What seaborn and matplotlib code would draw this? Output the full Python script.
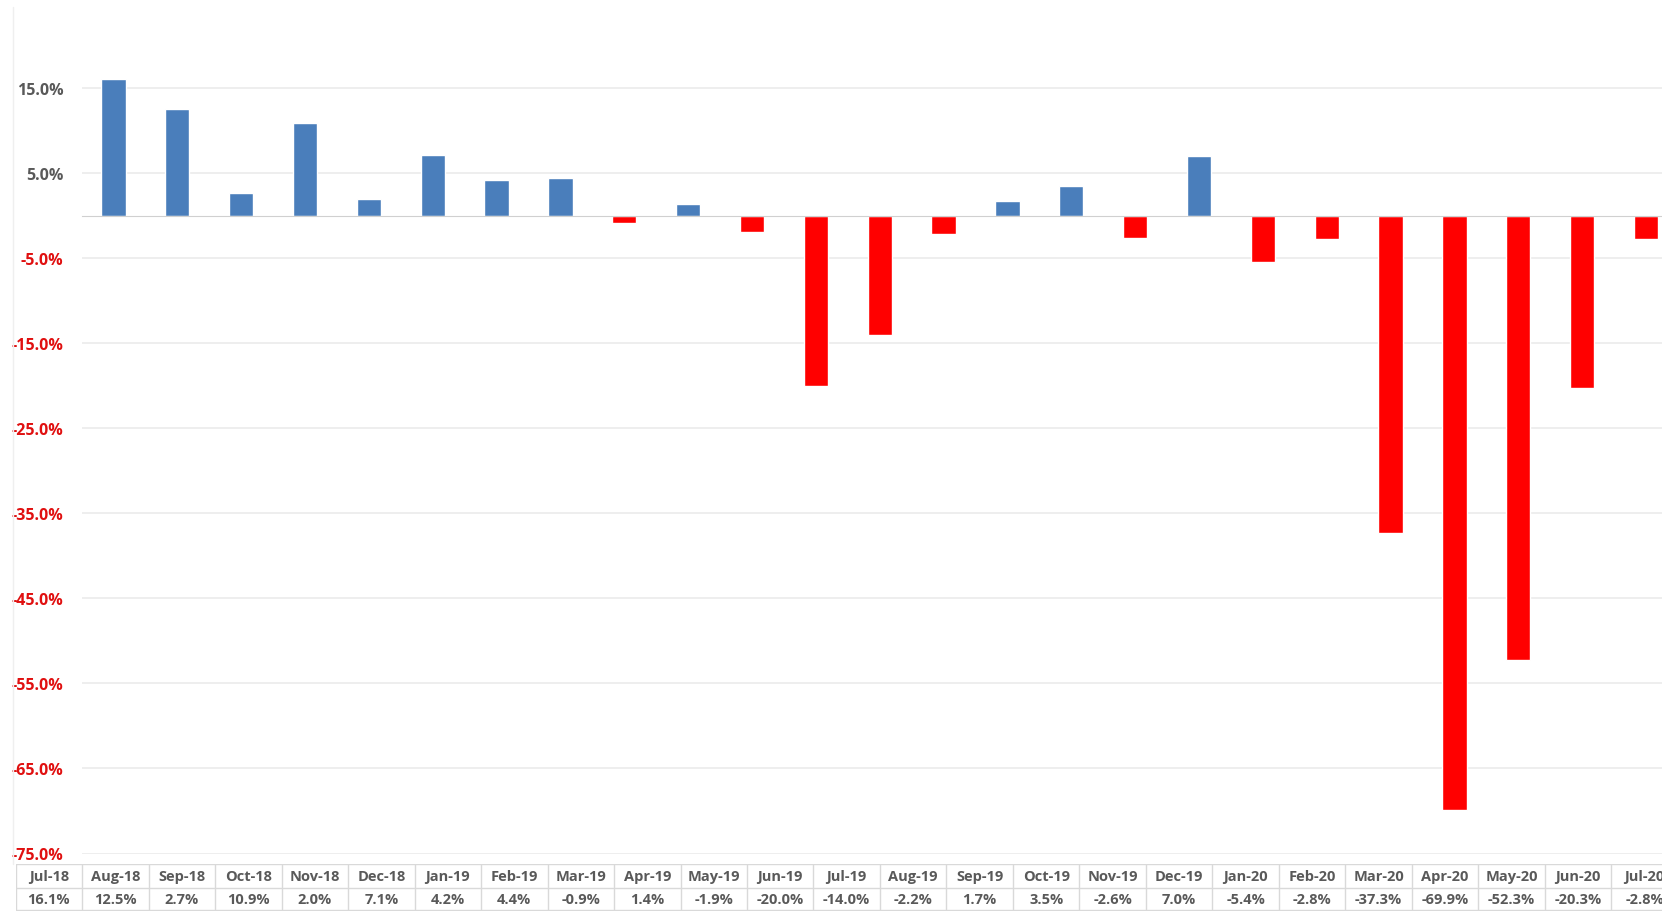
import matplotlib
matplotlib.use("Agg")
import matplotlib.pyplot as plt
import seaborn as sns
import pandas as pd
from matplotlib.lines import Line2D

# Datos: variación mensual
months = ["Jul-18", "Aug-18", "Sep-18", "Oct-18", "Nov-18", "Dec-18",
          "Jan-19", "Feb-19", "Mar-19", "Apr-19", "May-19", "Jun-19",
          "Jul-19", "Aug-19", "Sep-19", "Oct-19", "Nov-19", "Dec-19",
          "Jan-20", "Feb-20", "Mar-20", "Apr-20", "May-20", "Jun-20", "Jul-20"]
values = [16.1, 12.5, 2.7, 10.9, 2.0, 7.1,
          4.2, 4.4, -0.9, 1.4, -1.9, -20.0,
          -14.0, -2.2, 1.7, 3.5, -2.6, 7.0,
          -5.4, -2.8, -37.3, -69.9, -52.3, -20.3, -2.8]
y_ticks = [15, 5, -5, -15, -25, -35, -45, -55, -65, -75]

df = pd.DataFrame({"month": months, "value": values})
df["sign"] = ["pos" if v >= 0 else "neg" for v in values]

sns.set_style("white")
plt.rcParams["font.family"] = ["Open Sans", "DejaVu Sans"]

W, H = 1662, 912
fig = plt.figure(figsize=(W / 100, H / 100), dpi=100)

# Área del gráfico (se extiende un poco más allá del borde derecho)
ax = fig.add_axes([81.5 / W, 1 - 854.5 / H, 25 * 63.86 / W, (854.5 - 4) / H])
sns.barplot(data=df, x="month", y="value", hue="sign",
            palette={"pos": "#4A7EBB", "neg": "#FF0000"}, saturation=1,
            dodge=False, width=0.38, legend=False, ax=ax)
ax.set_xlim(-0.5, 24.5)
ax.set_ylim(-75, 25)

ax.set_yticks(y_ticks)
ax.set_yticklabels([f"{t:.1f}%" for t in y_ticks], fontsize=11.5,
                   fontweight="bold")
for lbl, t in zip(ax.get_yticklabels(), y_ticks):
    lbl.set_color("#595959" if t > 0 else "#E01010")
ax.tick_params(axis="y", length=0, pad=13)
ax.grid(axis="y", color="#EBEBEB", linewidth=1.2)
ax.set_axisbelow(True)

# Eje en cero con marcas entre categorías
ax.set_xticks([i - 0.5 for i in range(26)])
ax.set_xticklabels([])
ax.spines["bottom"].set_position(("data", 0))
ax.spines["bottom"].set_color("#D0D0D0")
ax.tick_params(axis="x", direction="out", length=4, color="#D0D0D0", width=1)
for s in ["top", "right", "left"]:
    ax.spines[s].set_visible(False)
ax.set_xlabel("")
ax.set_ylabel("")

# Tabla de datos debajo
tab = fig.add_axes([15.6 / W, 0, 25 * 66.49 / W, (912 - 865) / H])
tab.set_xlim(0, 25)
tab.set_ylim(0, 2)
tab.axis("off")
for i in range(26):
    tab.axvline(i, color="#D9D9D9", linewidth=1)
for yy in [0.04, 1, 2]:
    tab.axhline(yy, color="#D9D9D9", linewidth=1)
for i, (m, v) in enumerate(zip(months, values)):
    tab.text(i + 0.5, 1.5, m, ha="center", va="center", fontsize=10.5,
             fontweight="bold", color="#595959")
    tab.text(i + 0.5, 0.5, f"{v:.1f}%", ha="center", va="center",
             fontsize=10.5, fontweight="bold", color="#595959")

# Borde izquierdo tenue
fig.add_artist(Line2D([13 / W, 13 / W], [1 - 8 / H, 1 - 865 / H],
                      color="#EFEFEF", linewidth=1))

fig.savefig("out.png", dpi=100)
